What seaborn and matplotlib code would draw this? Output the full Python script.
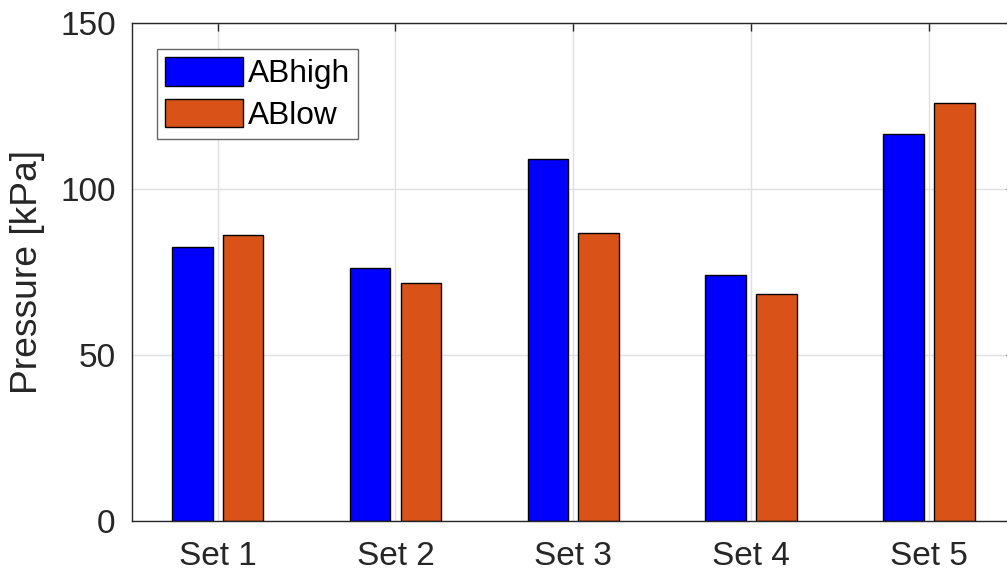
import matplotlib
matplotlib.use('Agg')
import matplotlib.pyplot as plt
import numpy as np
import pandas as pd
import seaborn as sns

# ---- data ----
categories = ['Set 1', 'Set 2', 'Set 3', 'Set 4', 'Set 5']
ab_high = [82.6, 76.3, 108.9, 74.1, 116.6]
ab_low = [86.2, 71.8, 86.6, 68.4, 125.9]
series_names = ['ABhigh', 'ABlow']
y_ticks = [0, 50, 100, 150]

sns.set_theme(style='white')
plt.rcParams['font.family'] = ['Liberation Sans', 'DejaVu Sans']

df = pd.DataFrame({
    'Set': categories * 2,
    'Pressure': ab_high + ab_low,
    'Series': [series_names[0]] * len(categories) + [series_names[1]] * len(categories),
})

W, H = 1007, 580
fig = plt.figure(figsize=(W / 100, H / 100), dpi=100)
ax = fig.add_axes([132.3 / W, 58.7 / H, (1014.3 - 132.3) / W, 498.6 / H])

sns.barplot(data=df, x='Set', y='Pressure', hue='Series',
            palette=['#0000FF', '#D95319'], saturation=1,
            width=0.572, gap=0.2, edgecolor='black', linewidth=1.0,
            errorbar=None, ax=ax)

ax.set_xlim(-0.48, 4.48)
ax.set_ylim(0, 150)
ax.set_yticks(y_ticks)
ax.set_xlabel('')
ax.set_ylabel('Pressure [kPa]', fontsize=26.8, color='#262626', labelpad=11)

ax.grid(True, color='#e0e0e0', linewidth=1.0)
ax.set_axisbelow(True)

for s in ax.spines.values():
    s.set_visible(True)
    s.set_color('#262626')
    s.set_linewidth(1.0)

ax.tick_params(axis='both', direction='in', top=True, right=True, length=6,
               width=1.0, color='#262626', labelsize=24, labelcolor='#262626')
ax.tick_params(axis='x', pad=14)
ax.tick_params(axis='y', pad=12)

leg = ax.legend(loc='upper left', bbox_to_anchor=(0.0283, 0.9466), borderaxespad=0,
                fontsize=22.8, frameon=True, fancybox=False, framealpha=1,
                edgecolor='#666666', handlelength=2.46, handleheight=1.0,
                handletextpad=0.16, labelspacing=0.3, borderpad=0.25, title=None)
leg.get_frame().set_linewidth(1.0)
for t in leg.get_texts():
    t.set_color('black')

fig.savefig('out.png', dpi=100)
